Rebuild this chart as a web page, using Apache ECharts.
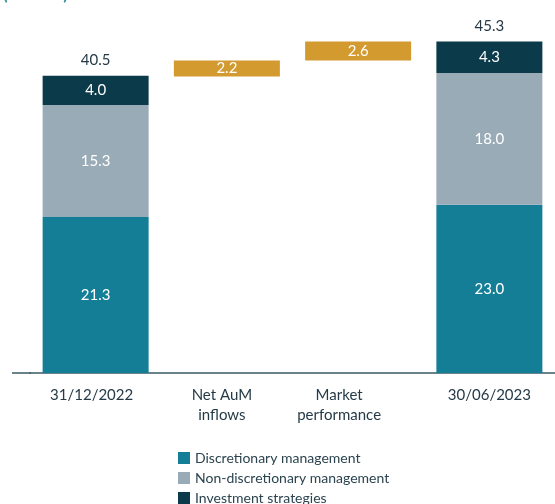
<!DOCTYPE html>
<html>
	<head>
		<meta charset="utf-8">
		<title></title>
		<script src="https://cdn.jsdelivr.net/npm/echarts@6/dist/echarts.min.js"></script>
	</head>
	<body style="margin:0;">
		<div id="main" style="width: 555px;height:504px;"></div>
		<script type="text/javascript">
			// 数据
			var categories = ['31/12/2022', 'Net AuM\ninflows', 'Market\nperformance', '30/06/2023'];
			var discretionary = [21.3, '-', '-', 23.0];
			var nonDiscretionary = [15.3, '-', '-', 18.0];
			var investment = [4.0, '-', '-', 4.3];
			var changes = ['-', 2.2, 2.6, '-'];
			var baseline = ['-', 40.5, 42.7, '-'];
			var totals = [40.5, '-', '-', 45.3];
			// 标签向左偏移 (px)
			var labelShift = [8, 10, 38, 0];

			var myChart = echarts.init(document.getElementById('main'));

			var inLabel = {
				show: true,
				position: 'inside',
				color: '#ffffff',
				fontFamily: 'Lato',
				fontSize: 15,
				formatter: function (p) { return Number(p.value).toFixed(1); }
			};

			var option = {
				animation: false,
				title: {
					text: '(€billion)',
					left: -2,
					top: -19,
					textStyle: { color: '#3a8f9e', fontFamily: 'Lato', fontSize: 17, fontWeight: 'bold' }
				},
				legend: {
					orient: 'vertical',
					left: 173,
					top: 446,
					height: 120,
					itemWidth: 12,
					itemHeight: 12,
					itemGap: 6,
					icon: 'rect',
					data: ['Discretionary management', 'Non-discretionary management', 'Investment strategies'],
					textStyle: { color: '#2b4450', fontFamily: 'Lato', fontSize: 14 }
				},
				grid: {
					left: 30,
					right: -3,
					top: 7,
					bottom: 131
				},
				xAxis: {
					type: 'category',
					data: categories.map(function (c, i) {
						return { value: c, textStyle: { padding: [0, labelShift[i], 0, 0] } };
					}),
					axisLine: { lineStyle: { color: '#3b5965', width: 1.5 } },
					axisTick: { show: false },
					axisLabel: {
						color: '#253a46',
						fontFamily: 'Lato',
						fontSize: 15,
						lineHeight: 20,
						margin: 12
					}
				},
				yAxis: {
					type: 'value',
					min: 0,
					max: 50,
					show: false,
					splitLine: { show: false }
				},
				graphic: [{
					type: 'line',
					shape: { x1: 12, y1: 373, x2: 31, y2: 373 },
					style: { stroke: '#3b5965', lineWidth: 1.5 }
				}],
				series: [
					{
						name: 'base',
						type: 'bar',
						stack: 'total',
						barWidth: 106,
						itemStyle: { color: 'transparent' },
						data: baseline
					},
					{
						name: 'Discretionary management',
						type: 'bar',
						stack: 'total',
						barWidth: 106,
						itemStyle: { color: '#157e97' },
						label: inLabel,
						data: discretionary
					},
					{
						name: 'Non-discretionary management',
						type: 'bar',
						stack: 'total',
						itemStyle: { color: '#9aabb8' },
						label: inLabel,
						data: nonDiscretionary
					},
					{
						name: 'Investment strategies',
						type: 'bar',
						stack: 'total',
						itemStyle: { color: '#0b3a4a' },
						label: inLabel,
						data: investment
					},
					{
						name: 'change',
						type: 'bar',
						stack: 'total',
						itemStyle: { color: '#d39a30' },
						label: inLabel,
						data: changes
					},
					{
						name: 'totals',
						type: 'bar',
						stack: 'total',
						itemStyle: { color: 'transparent' },
						label: {
							show: true,
							position: 'top',
							distance: 8,
							color: '#253a46',
							fontFamily: 'Lato',
							fontSize: 15,
							formatter: function (p) { return totals[p.dataIndex].toFixed(1); }
						},
						data: [0, '-', '-', 0]
					}
				]
			};

			myChart.setOption(option);
		</script>
	</body>
</html>
